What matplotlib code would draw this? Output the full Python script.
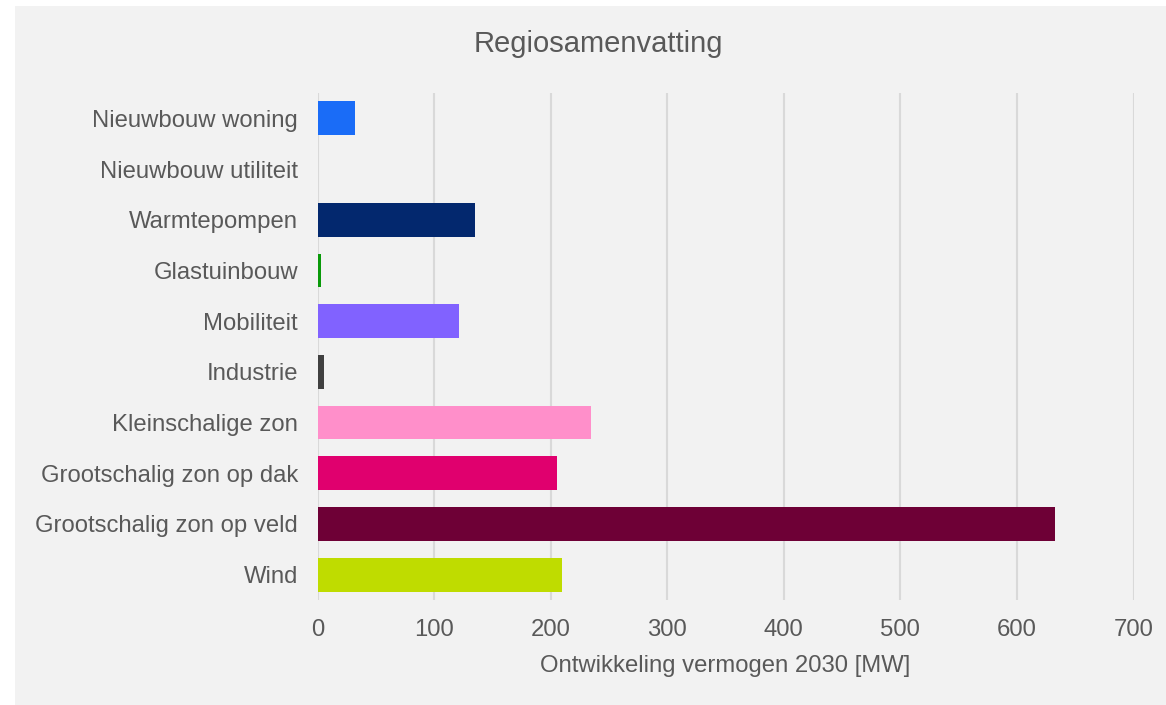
import matplotlib.pyplot as plt

plt.rcParams['font.family'] = ['Liberation Sans', 'DejaVu Sans']

# DATA
categories = [
    "Nieuwbouw woning",
    "Nieuwbouw utiliteit",
    "Warmtepompen",
    "Glastuinbouw",
    "Mobiliteit",
    "Industrie",
    "Kleinschalige zon",
    "Grootschalig zon op dak",
    "Grootschalig zon op veld",
    "Wind",
]
values = [32, 0, 135, 3, 121.5, 5.5, 234.5, 205.5, 632.5, 209.5]
colors = ["#1a6cf7", "#cccccc", "#03286e", "#0a9a0a", "#8162ff",
          "#404040", "#ff8fca", "#e0006e", "#6e0036", "#bfdc00"]
xticks = [0, 100, 200, 300, 400, 500, 600, 700]

text_color = "#595959"
bg = "#f2f2f2"

fig = plt.figure(figsize=(11.66, 7.05), dpi=100, facecolor="white")
# gray panel behind everything
panel = plt.Rectangle((15 / 1166, 0), 1 - 15 / 1166, 1 - 6 / 705,
                      transform=fig.transFigure, facecolor=bg,
                      edgecolor="none", zorder=-10)
fig.add_artist(panel)

ax = fig.add_axes([317.5 / 1166, 1 - 600 / 705, 816 / 1166, 507 / 705])
ax.set_facecolor(bg)

ypos = list(range(len(categories)))
ax.barh(ypos, values, height=0.667, color=colors, zorder=3)

ax.set_xlim(0, 700)
ax.set_ylim(len(categories) - 0.5, -0.5)
ax.set_yticks(ypos)
ax.set_yticklabels(categories)
ax.set_xticks(xticks)

ax.tick_params(axis="both", length=0, labelsize=17.2, colors=text_color)
ax.tick_params(axis="y", pad=14)
ax.tick_params(axis="x", pad=14)

ax.grid(axis="x", color="#d9d9d9", linewidth=1.5, zorder=0)
for s in ax.spines.values():
    s.set_visible(False)

ax.set_xlabel("Ontwikkeling vermogen 2030 [MW]", fontsize=17.2,
              color=text_color, labelpad=10)

fig.text(598 / 1166, 1 - 44 / 705, "Regiosamenvatting", fontsize=21,
         color=text_color, ha="center", va="center")

fig.savefig("out.png", dpi=100, facecolor=fig.get_facecolor())
